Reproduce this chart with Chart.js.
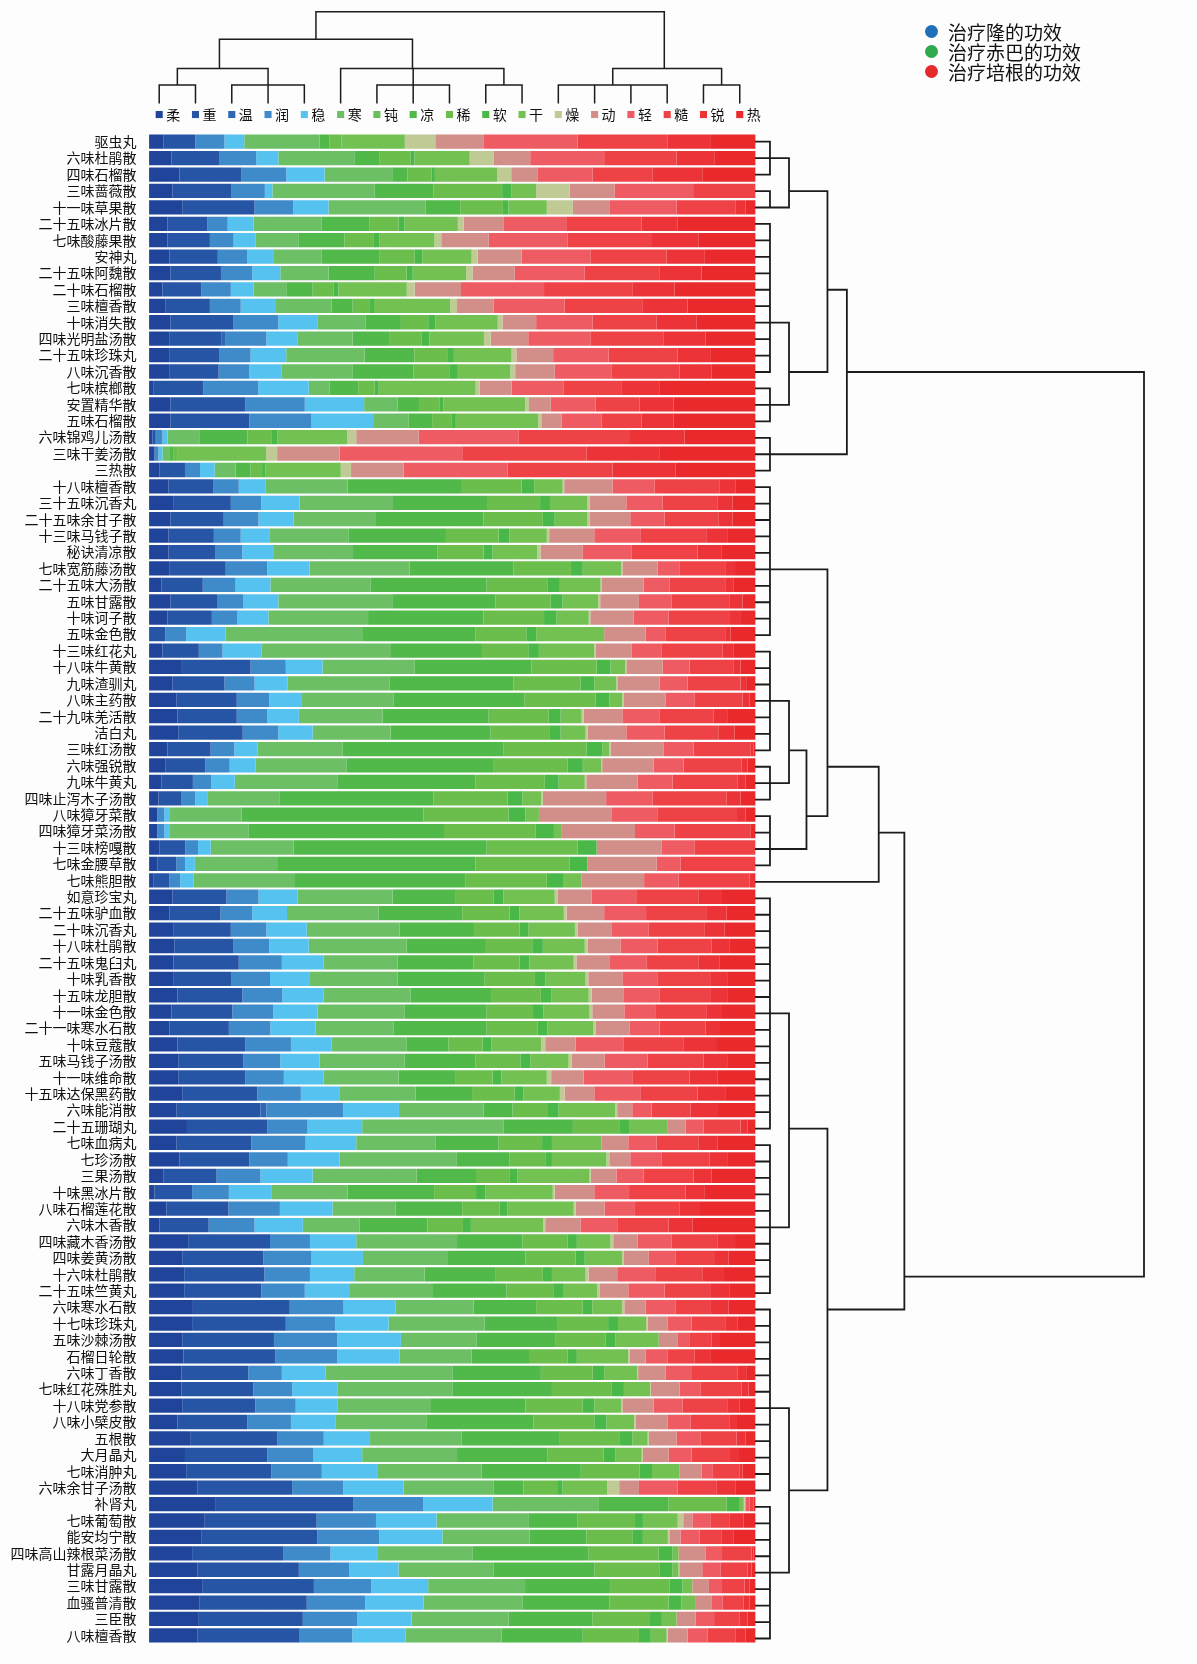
<!DOCTYPE html>
<html><head><meta charset="utf-8">
<script src="https://cdn.jsdelivr.net/npm/chart.js@4.4.1/dist/chart.umd.min.js"></script>
<style>
html,body{margin:0;padding:0;background:#fdfdfd;}
#wrap{position:relative;width:1197px;height:1664px;overflow:hidden;background:#fdfdfd;}
canvas{position:absolute;}
#legend{position:absolute;left:925px;top:21px;font-family:"Noto Sans CJK SC",sans-serif;font-size:19px;color:#111;}
.li{display:flex;align-items:center;height:20px;white-space:nowrap;}
.dot{width:13px;height:13px;border-radius:50%;margin-right:10px;flex:none;}
</style></head><body>
<div id="wrap">
<canvas id="main" width="765" height="1664" style="left:0;top:0"></canvas>
<canvas id="rtree" width="442" height="1664" style="left:755px;top:0"></canvas>
<canvas id="ctree" width="800" height="130" style="left:0;top:0"></canvas>
<div id="legend"></div>
</div>
<script>
const FONT = '"Noto Sans CJK SC","Noto Sans CJK JP",sans-serif';

const formulas = ['驱虫丸','六味杜鹃散','四味石榴散','三味蔷薇散','十一味草果散','二十五味冰片散','七味酸藤果散','安神丸','二十五味阿魏散','二十味石榴散',
'三味檀香散','十味消失散','四味光明盐汤散','二十五味珍珠丸','八味沉香散','七味槟榔散','安置精华散','五味石榴散','六味锦鸡儿汤散','三味干姜汤散',
'三热散','十八味檀香散','三十五味沉香丸','二十五味余甘子散','十三味马钱子散','秘诀清凉散','七味宽筋藤汤散','二十五味大汤散','五味甘露散','十味诃子散',
'五味金色散','十三味红花丸','十八味牛黄散','九味渣驯丸','八味主药散','二十九味羌活散','洁白丸','三味红汤散','六味强锐散','九味牛黄丸',
'四味止泻木子汤散','八味獐牙菜散','四味獐牙菜汤散','十三味榜嘎散','七味金腰草散','七味熊胆散','如意珍宝丸','二十五味驴血散','二十味沉香丸','十八味杜鹃散',
'二十五味鬼臼丸','十味乳香散','十五味龙胆散','十一味金色散','二十一味寒水石散','十味豆蔻散','五味马钱子汤散','十一味维命散','十五味达保黑药散','六味能消散',
'二十五珊瑚丸','七味血病丸','七珍汤散','三果汤散','十味黑冰片散','八味石榴莲花散','六味木香散','四味藏木香汤散','四味姜黄汤散','十六味杜鹃散',
'二十五味竺黄丸','六味寒水石散','十七味珍珠丸','五味沙棘汤散','石榴日轮散','六味丁香散','七味红花殊胜丸','十八味党参散','八味小檗皮散','五根散',
'大月晶丸','七味消肿丸','六味余甘子汤散','补肾丸','七味葡萄散','能安均宁散','四味高山辣根菜汤散','甘露月晶丸','三味甘露散','血骚普清散',
'三臣散','八味檀香散'];

const properties = ['柔','重','温','润','稳','寒','钝','凉','稀','软','干','燥','动','轻','糙','锐','热'];

// relative shares (each row is normalised to 100%)
const rou = [38,58,78,60,85,48,48,53,55,35, 42,55,52,52,52,13,55,55,10,15, 28,50,62,55,50,50,52,33,55,48, 0,35,82,60,70,73,75,48,42,33, 25,22,22,28,22,13,60,53,62,65, 63,62,73,58,53,73,75,75,85,70, 97,70,78,38,15,45,27,100,85,90, 90,112,110,85,88,83,83,85,73,105, 92,95,123,170,142,133,110,123,137,128, 127,123];
const zhong = [80,120,157,150,183,100,107,122,128,98, 113,160,133,126,125,125,190,200,8,0, 64,113,146,135,115,118,143,104,118,112, 42,92,176,132,153,150,163,109,101,79, 57,0,0,65,48,39,137,129,146,150, 165,148,164,154,150,172,165,170,190,213, 203,190,177,134,95,157,125,207,205,203, 195,245,237,232,232,169,182,185,177,220, 208,215,240,347,283,294,230,257,281,272, 263,259];
const wen = [0,0,0,0,0,0,0,0,0,0, 0,0,10,0,0,0,0,0,0,0, 0,0,0,0,0,0,0,0,0,0, 0,0,0,0,0,0,0,0,0,0, 0,0,0,0,0,0,0,0,0,0, 0,0,0,0,0,0,0,0,0,15, 0,0,0,0,0,0,0,0,0,0, 0,0,0,0,0,0,0,0,0,0, 0,0,0,0,0,0,0,0,0,0, 0,0];
const run = [74,94,113,84,98,52,60,75,79,75, 78,113,103,80,78,139,150,157,17,10, 38,65,77,88,68,69,105,83,67,65, 53,60,89,76,82,77,90,60,62,46, 36,18,18,32,23,28,81,80,90,90, 109,97,101,103,105,115,93,97,110,194, 102,137,97,111,93,130,116,101,122,115, 110,136,125,160,157,85,98,102,110,118, 117,128,129,178,150,156,120,127,145,148, 138,133];
const wenDing = [50,56,97,19,89,65,55,65,71,57, 87,100,78,90,82,128,150,158,13,10, 37,67,97,89,72,80,107,88,88,78, 100,98,93,84,83,80,87,58,65,60, 32,12,12,32,24,33,99,88,102,100, 105,101,105,112,114,103,99,100,97,141, 138,128,131,132,107,133,122,117,130,112, 112,132,135,161,158,111,114,105,112,117, 123,140,153,175,153,160,118,125,144,147, 137,135];
const han = [190,192,171,259,245,173,110,123,122,83, 143,120,140,198,178,53,85,88,80,17, 53,208,236,208,200,200,253,254,288,252, 345,328,232,258,232,212,197,215,230,259, 182,183,200,210,208,255,240,232,235,247, 188,222,219,221,198,190,215,190,193,214, 357,200,295,263,193,160,143,255,213,178, 210,197,243,192,182,320,291,235,230,232, 240,264,228,267,232,220,242,241,245,250, 245,243];
const dun = [0,0,0,0,0,0,0,0,0,0, 0,0,0,0,0,0,0,0,0,0, 0,0,0,0,0,0,0,0,0,0, 0,0,0,0,0,0,0,0,0,0, 0,0,0,0,0,0,0,0,0,0, 0,0,0,0,0,0,0,0,0,0, 0,0,0,0,0,0,0,0,0,0, 0,0,0,0,0,0,0,0,0,0, 0,0,0,0,0,0,0,0,0,0, 0,0];
const liang = [26,63,39,148,88,120,115,145,117,67, 53,90,94,126,155,72,56,59,122,10, 38,287,240,272,247,213,263,293,261,292, 287,230,296,313,330,268,253,408,373,350, 388,460,495,488,502,434,160,211,188,201, 192,220,206,207,235,105,180,143,143,73, 176,160,134,150,219,168,172,165,198,180, 188,158,183,198,145,224,252,241,271,246, 228,251,75,178,125,144,293,255,215,220, 212,205];
const xi = [30,80,61,174,108,74,73,90,80,52, 44,69,81,83,92,42,49,50,60,10, 29,153,132,150,133,117,145,153,140,153, 128,117,165,169,180,152,148,209,187,175, 188,215,231,230,238,205,96,120,115,117, 116,127,124,117,128,87,113,95,107,90, 117,110,91,84,106,94,90,115,127,119, 120,118,129,127,98,131,150,145,154,152, 142,149,85,147,145,116,177,165,151,150, 146,142];
const ruan = [3,9,8,23,14,15,15,19,16,13, 10,18,19,17,20,10,10,10,15,0, 8,32,25,30,28,23,30,32,30,32, 25,27,35,35,35,30,29,40,38,35, 37,43,47,48,45,41,24,25,22,27, 25,26,26,26,25,22,25,22,23,27, 25,25,17,20,24,21,20,23,23,23, 25,24,25,25,23,29,32,29,31,33, 30,31,14,33,20,27,35,32,32,32, 30,30];
const gan = [157,140,158,63,97,135,140,125,135,173, 193,158,138,146,133,245,207,208,177,225, 191,72,95,83,94,113,97,103,90,81, 172,140,37,56,33,53,63,18,47,66, 48,34,20,0,0,47,130,112,118,106, 112,102,95,117,117,126,97,115,92,143, 98,125,138,183,170,167,183,85,94,85, 85,75,71,110,130,83,66,68,70,39, 67,69,113,10,88,63,15,15,25,35, 37,40];
const zao = [77,60,35,85,66,15,17,15,17,20, 17,12,17,12,12,10,10,8,23,28, 26,4,5,5,6,9,3,2,5,4, 0,3,3,4,4,5,5,3,2,4, 4,0,0,0,0,0,8,7,7,7, 7,7,7,7,5,10,8,11,12,5, 0,0,7,3,5,5,5,7,5,8, 5,6,4,0,4,3,2,3,4,3, 3,0,30,2,14,4,0,2,0,0, 0,3];
const dong = [123,93,66,113,92,100,120,111,106,117, 93,85,95,93,100,81,55,52,158,158, 133,122,93,103,114,105,89,107,98,110, 105,92,92,105,106,98,98,135,130,130, 160,183,185,165,175,158,85,95,85,83, 83,86,82,81,87,77,83,82,75,38, 45,68,53,65,100,73,89,62,63,72, 73,54,51,47,40,70,73,79,81,70, 65,56,50,3,23,28,68,58,42,41, 48,50];
const qing = [237,187,140,199,170,161,200,174,177,210, 179,143,157,140,143,132,113,100,252,310, 263,107,92,87,118,125,55,66,83,88, 51,76,68,71,72,95,97,75,76,88, 118,118,100,82,60,87,113,106,95,94, 95,90,91,80,75,122,109,123,118,49, 45,72,80,69,88,75,93,86,67,98, 92,75,60,30,56,64,52,73,57,60, 58,29,98,10,47,48,42,47,33,29, 47,50];
const cao = [228,183,152,158,150,189,213,193,190,223, 198,162,186,175,173,145,112,102,280,314, 265,163,138,137,165,166,118,140,147,153, 152,154,112,134,122,135,137,145,147,165, 187,200,193,155,190,180,157,154,140,136, 130,132,127,127,116,150,141,145,143,98, 94,105,120,126,143,114,130,115,98,117, 115,88,85,56,67,118,105,115,100,92, 95,68,99,10,48,55,75,68,57,53, 65,72];
const rui = [107,97,125,0,25,90,117,95,105,107, 113,100,105,84,80,98,85,80,140,186, 160,42,39,35,55,60,23,22,32,30, 12,28,17,16,18,35,40,7,15,20, 35,22,0,0,0,15,60,50,52,47, 53,43,45,40,37,83,60,70,72,70, 18,48,45,45,47,50,60,45,37,55, 50,47,32,22,40,23,17,30,18,23, 25,7,48,0,35,32,5,10,13,15, 20,25];
const re = [115,103,135,0,25,198,145,130,137,205, 172,150,127,113,112,242,208,208,180,242, 202,50,58,58,70,87,52,55,33,37, 63,55,38,22,15,72,53,5,20,25, 38,25,12,0,0,0,85,73,78,65, 92,72,70,85,90,100,72,97,75,95, 20,97,72,112,130,143,160,52,68,80, 65,68,45,90,115,22,18,40,47,25, 42,33,50,5,30,55,5,10,15,15, 20,25];

const series = [rou, zhong, wen, run, wenDing, han, dun, liang, xi, ruan, gan, zao, dong, qing, cao, rui, re];

const legendGroups = ['治疗隆的功效', '治疗赤巴的功效', '治疗培根的功效'];

// column dendrogram (leaves = property index); node refs 'nK'
const colTreeKids = [[0,1],[2,3,4],['n0','n1'],[6,7,8],[9,10],[5,'n3','n4'],['n2','n5'],[11,12,13,14],[15,16],['n7','n8'],['n6','n9']];
const colTreeHeight = [19.4,19.4,37.7,19.4,19.4,37.7,69.6,19.4,19.4,37.7,100];
const colTreePos = [0.5,3,1.66,7,9.5,6.98,4.32,12.5,15.5,13.92,9.1];

// row dendrogram (leaves = formula row index)
const rowTreeKids = [
  [0,1,2],[3,4],['n0','n1'],[5,6,7,8,9,10,11,12,13,14],[15,16,17],['n3','n4'],['n2','n5'],[18,19,20],['n6','n7'],
  [21,22,23,24,25,26,27,28,29,30],[31,32,33,34,35,36,37],[38,39,40],['n10','n11'],[41,42,43,44],['n12','n13'],['n9','n14'],['n15',45],
  [46,47,48,49,50,51,52,53,54,55,56,57,58,59,60],[61,62,63,64,65,66,67,68,69,70],['n17','n18'],
  [71,72,73,74,75,76,77,78,79,80,81,82],[83,84,85,86,87,88,89,90,91],['n20','n21'],['n19','n22'],['n16','n23'],['n8','n24']
];
const rowTreeHeight = [3.7,3.7,8.6,3.7,3.7,8.6,18.5,3.7,23.5, 3.7,3.7,3.7,8.6,3.7,13.1,18.5,31.7, 3.7,3.7,8.6,3.7,3.7,8.6,18.5,38.3,100];
const rowTreeRow = [1,4,3,11,16,14,9,19,14, 26,34,39,37,43,41,38,42, 53,66,60,77,87,82,71,69,41];

// ---------- styles ----------
const palette = ['#1f449a','#2755a6','#2e68b5','#3f8bc9','#56c2ef','#6cbf65','#69be60','#51b84a','#6bbd4c','#4ab849','#73c152','#c0ca95','#d28e88','#ef5b63','#ee4247','#eb3338','#e9292c'];
const legendColors = ['#1f70b8','#2eaa4d','#e4292d'];

const totals = formulas.map((_, i) => series.reduce((s, arr) => s + arr[i], 0));
const shares = series.map(arr => arr.map((v, i) => v / totals[i] * 100));

Chart.defaults.font.family = FONT;

new Chart(document.getElementById('main'), {
  type: 'bar',
  data: {
    labels: formulas,
    datasets: properties.map((p, k) => ({
      label: p, data: shares[k], backgroundColor: palette[k], borderWidth: 0,
      barPercentage: 0.87, categoryPercentage: 1
    }))
  },
  options: {
    indexAxis: 'y', responsive: false, animation: false, events: [],
    layout: { padding: { top: 133.5, bottom: 17.3, left: 0, right: 9.4 } },
    plugins: { legend: { display: false }, tooltip: { enabled: false } },
    scales: {
      x: {
        stacked: true, min: 0, max: 100, z: 1,
        ticks: { display: false, stepSize: 10 },
        grid: { color: 'rgba(255,255,255,0.16)', lineWidth: 1, drawTicks: false },
        border: { display: false },
        afterFit: s => { s.height = 0; }
      },
      y: {
        stacked: true, grid: { display: false, drawTicks: false }, border: { display: false },
        ticks: { autoSkip: false, padding: 12, color: '#111', font: { family: FONT, size: 14 } },
        afterFit: s => { s.width = 148.6; }
      }
    }
  }
});

function treeSegments(kids, heights, pos, toPoint) {
  const pts = [];
  const posOf = r => typeof r === 'number' ? r : pos[+r.slice(1)];
  const hOf = r => typeof r === 'number' ? 0 : heights[+r.slice(1)];
  kids.forEach((ks, n) => {
    const H = heights[n];
    const ps = ks.map(posOf);
    pts.push(toPoint(Math.min(...ps), H), toPoint(Math.max(...ps), H), { x: null, y: null });
    ks.forEach(k => {
      pts.push(toPoint(posOf(k), hOf(k)), toPoint(posOf(k), H), { x: null, y: null });
    });
  });
  return pts;
}

new Chart(document.getElementById('rtree'), {
  type: 'line',
  data: { datasets: [{
    data: treeSegments(rowTreeKids, rowTreeHeight, rowTreeRow, (p, h) => ({ x: h, y: p })),
    borderColor: '#1c1c1c', borderWidth: 1.8, borderCapStyle: 'square', pointRadius: 0,
    fill: false, spanGaps: false, clip: false, tension: 0
  }] },
  options: {
    responsive: false, animation: false, events: [],
    layout: { padding: { top: 133.5, bottom: 17.3, left: 0.6, right: 53 } },
    plugins: { legend: { display: false }, tooltip: { enabled: false } },
    scales: {
      x: { type: 'linear', min: 0, max: 100, display: false },
      y: { type: 'linear', min: -0.5, max: 91.5, reverse: true, display: false }
    }
  }
});

new Chart(document.getElementById('ctree'), {
  type: 'line',
  data: { datasets: [
    { data: treeSegments(colTreeKids, colTreeHeight, colTreePos, (p, h) => ({ x: p, y: h })),
      borderColor: '#1c1c1c', borderWidth: 1.5, borderCapStyle: 'square', pointRadius: 0,
      fill: false, spanGaps: false, clip: false, tension: 0 },
    { data: properties.map((_, i) => ({ x: i, y: -13 })), showLine: false,
      pointStyle: 'rect', pointRadius: 5, pointBackgroundColor: palette, pointBorderWidth: 0, clip: false }
  ] },
  options: {
    responsive: false, animation: false, events: [],
    layout: { padding: { top: 11.7, bottom: 0, left: 141.06, right: 42.1 } },
    plugins: { legend: { display: false }, tooltip: { enabled: false } },
    scales: {
      x: {
        type: 'linear', min: -0.5, max: 16.5,
        grid: { display: false, drawTicks: false }, border: { display: false },
        afterBuildTicks: s => { s.ticks = properties.map((_, i) => ({ value: i })); },
        afterFit: s => { s.height = 6; },
        ticks: { mirror: true, padding: 1.1, labelOffset: 14, maxRotation: 0, autoSkip: false,
                 color: '#111', font: { family: FONT, size: 14 }, callback: v => properties[v] }
      },
      y: { type: 'linear', min: -23.4, max: 100, display: false }
    }
  }
});

const lg = document.getElementById('legend');
legendGroups.forEach((t, i) => {
  const d = document.createElement('div'); d.className = 'li';
  const c = document.createElement('span'); c.className = 'dot'; c.style.background = legendColors[i];
  const s = document.createElement('span'); s.textContent = t;
  d.appendChild(c); d.appendChild(s); lg.appendChild(d);
});
</script>
</body></html>
